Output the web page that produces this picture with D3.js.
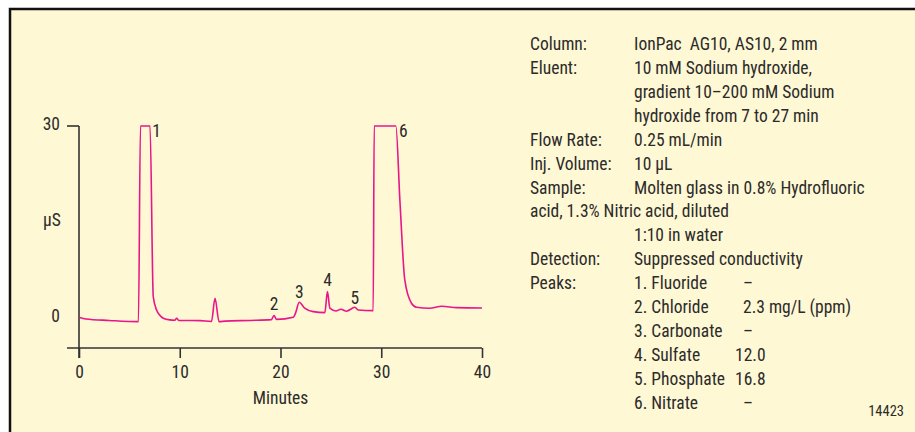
<!DOCTYPE html>
<html><head><meta charset="utf-8">
<script src="https://cdn.jsdelivr.net/npm/d3@7"></script>
<style>
html,body{margin:0;padding:0;background:#fff;}
svg{display:block;}
svg text{font-family:"Roboto Condensed","Roboto",sans-serif;font-stretch:condensed;fill:#2b2b2b;white-space:pre;}
</style></head><body>
<svg id="chart" width="915" height="432"></svg>
<script>
// ---- data ----
const times = [0,0.7,3,5.9,6.1,7.05,7.37,7.7,8.0,8.37,9.0,9.5,9.7,9.9,12,13.15,13.5,13.9,14.5,17,19.1,19.35,19.6,21.27,21.5,21.86,22.4,23.25,24.4,24.66,24.9,25.5,26.0,26.55,27.38,27.7,29.2,29.3,31.45,31.85,32.34,33.0,33.5,34.8,36.0,37.5,40];
const signal = [0.11,-0.16,-0.39,-0.58,30,30,3.33,1.25,0.47,-0.05,-0.31,-0.36,-0.05,-0.39,-0.42,-0.55,3.08,-0.58,-0.5,-0.39,-0.27,0.39,-0.23,0.11,0.78,2.45,1.52,0.98,0.83,4.11,1.52,1.09,1.36,1.05,1.67,1.25,1.14,30,30,18.4,5.9,2.3,1.67,1.52,1.83,1.61,1.56];
const peakNames = ["1","2","3","4","5","6"];
const peakTimes = [7.7,19.35,21.86,24.66,27.38,32.2];
const peakHeights = [29.3,2.2,4.1,6.0,3.1,29.3];
const xTicks = [0,10,20,30,40];
const yTickLabels = [0,30];
const yUnit = "µS";
const xTitle = "Minutes";
const infoLabels = ["Column:","Eluent:","","","Flow Rate:","Inj. Volume:","Sample:","acid, 1.3% Nitric acid, diluted","","Detection:","Peaks:","","","","",""];
const infoValues = ["IonPac  AG10, AS10, 2 mm","10 mM Sodium hydroxide,","gradient 10–200 mM Sodium","hydroxide from 7 to 27 min","0.25 mL/min","10 µL","Molten glass in 0.8% Hydrofluoric","","1:10 in water","Suppressed conductivity","1. Fluoride","2. Chloride","3. Carbonate","4. Sulfate","5. Phosphate","6. Nitrate"];
const peakAmounts = ["–","2.3 mg/L (ppm)","–","12.0","16.8","–"];
const figureId = "14423";

// ---- drawing ----
const FS = 17.5;
const svg = d3.select("#chart");
svg.append("rect").attr("x",10).attr("y",9).attr("width",915).attr("height",432).attr("fill","#fff8d4").attr("stroke","#111").attr("stroke-width",2.5);

const x = d3.scaleLinear().domain([0,40]).range([79,482]);
const y = d3.scaleLinear().domain([-4.7,30]).range([348,126]);
const axisColor = "#333";
const g = svg.append("g");

// x axis
const xAxis = d3.axisBottom(x).tickValues(xTicks).tickSize(10).tickSizeOuter(0).tickPadding(8);
const xg = g.append("g").attr("transform",`translate(0,${y(-4.7)})`).call(xAxis);
xg.attr("font-family",null).attr("font-size",null);
xg.select(".domain").remove();
xg.append("line").attr("x1",67).attr("x2",x(40)).attr("y1",0).attr("y2",0).attr("stroke",axisColor).attr("stroke-width",1.6);
xg.selectAll(".tick line").attr("stroke",axisColor).attr("stroke-width",1.6);
xg.selectAll(".tick text").attr("font-size",FS).attr("fill","#2b2b2b");

// y axis
g.append("line").attr("x1",x(0)).attr("x2",x(0)).attr("y1",y(30)).attr("y2",y(-4.7)+10).attr("stroke",axisColor).attr("stroke-width",1.6);
g.append("line").attr("x1",67).attr("x2",x(0)).attr("y1",y(30)).attr("y2",y(30)).attr("stroke",axisColor).attr("stroke-width",1.6);
g.selectAll(".ylab").data(yTickLabels).join("text").attr("class","ylab")
  .attr("x",60).attr("y",d=>y(d)-2).attr("dy","0.35em").attr("text-anchor","end").attr("font-size",FS).text(d=>d);
g.append("text").attr("x",52).attr("y",y(15)-2).attr("dy","0.35em").attr("text-anchor","middle").attr("font-size",FS).text(yUnit);
g.append("text").attr("x",x(20)).attr("y",398).attr("dy","0.35em").attr("text-anchor","middle").attr("font-size",FS).text(xTitle);

// trace
const pts = times.map((t,i)=>[t,signal[i]]);
const line = d3.line().x(d=>x(d[0])).y(d=>y(d[1])).curve(d3.curveMonotoneX);
g.append("path").attr("d",line(pts)).attr("fill","none").attr("stroke","#e8168a").attr("stroke-width",1.6).attr("stroke-linejoin","round");

// peak labels
g.selectAll(".pk").data(peakNames).join("text").attr("class","pk")
  .attr("x",(d,i)=>x(peakTimes[i])).attr("y",(d,i)=>y(peakHeights[i])).attr("dy","0.35em")
  .attr("text-anchor","middle").attr("font-size",FS).text(d=>d);

// info panel
const lh = 23.9, top0 = 44;
const info = svg.append("g");
info.selectAll(".il").data(infoLabels).join("text").attr("class","il")
  .attr("x",530).attr("y",(d,i)=>top0+i*lh).attr("dy","0.35em").attr("font-size",FS).text(d=>d);
info.selectAll(".iv").data(infoValues).join("text").attr("class","iv")
  .attr("x",634).attr("y",(d,i)=>top0+i*lh).attr("dy","0.35em").attr("font-size",FS).text(d=>d);
info.selectAll(".pa").data(peakAmounts).join("text").attr("class","pa")
  .attr("x",(d,i)=>(i===3||i===4)?735:743).attr("y",(d,i)=>top0+(10+i)*lh).attr("dy","0.35em").attr("font-size",FS).text(d=>d);
svg.append("text").attr("x",904).attr("y",411).attr("dy","0.35em").attr("text-anchor","end").attr("font-size",14.5).text(figureId);
</script>
</body></html>
